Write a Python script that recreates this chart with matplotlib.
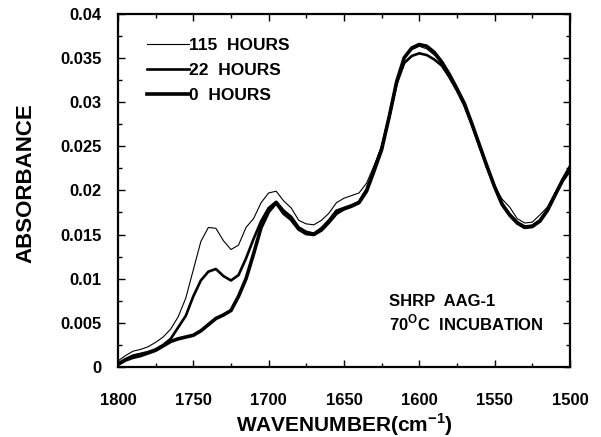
#%% Librerias
import numpy as np
import matplotlib
matplotlib.use('Agg')
import matplotlib.pyplot as plt
from matplotlib.ticker import MultipleLocator, FixedFormatter, FixedLocator

plt.rcParams['font.family'] = 'Liberation Sans'
plt.rcParams['font.weight'] = 'bold'
plt.rcParams['mathtext.fontset'] = 'custom'
plt.rcParams['mathtext.rm'] = 'Liberation Sans:bold'
plt.rcParams['mathtext.bf'] = 'Liberation Sans:bold'

#%% Datos
wavenumber = np.arange(1800, 1499, -5)

abs_115h = [0.0007, 0.0013, 0.0018, 0.0020, 0.0023, 0.0028, 0.0034, 0.0043, 0.0057, 0.0078,
            0.0110, 0.0142, 0.0158, 0.0157, 0.0143, 0.0133, 0.0138, 0.0158, 0.0168, 0.0186,
            0.0197, 0.0199, 0.0188, 0.0180, 0.0166, 0.0162, 0.0161, 0.0166, 0.0174, 0.0186,
            0.0191, 0.0194, 0.0197, 0.0208, 0.0228, 0.0250, 0.0285, 0.0324, 0.0349, 0.0359,
            0.0363, 0.0360, 0.0353, 0.0344, 0.0329, 0.0314, 0.0297, 0.0274, 0.0250, 0.0226,
            0.0205, 0.0190, 0.0181, 0.0168, 0.0163, 0.0164, 0.0172, 0.0181, 0.0197, 0.0213,
            0.0228]

abs_22h = [0.0004, 0.0009, 0.0013, 0.0015, 0.0017, 0.0020, 0.0025, 0.0032, 0.0045, 0.0058,
           0.0080, 0.0098, 0.0108, 0.0111, 0.0103, 0.0098, 0.0104, 0.0123, 0.0145, 0.0165,
           0.0180, 0.0187, 0.0177, 0.0170, 0.0158, 0.0153, 0.0151, 0.0157, 0.0166, 0.0177,
           0.0180, 0.0183, 0.0187, 0.0201, 0.0224, 0.0248, 0.0283, 0.0321, 0.0344, 0.0352,
           0.0355, 0.0353, 0.0348, 0.0341, 0.0328, 0.0313, 0.0296, 0.0274, 0.0250, 0.0226,
           0.0204, 0.0185, 0.0173, 0.0164, 0.0159, 0.0160, 0.0166, 0.0178, 0.0195, 0.0210,
           0.0222]

abs_0h = [0.0003, 0.0008, 0.0011, 0.0013, 0.0016, 0.0019, 0.0024, 0.0029, 0.0032, 0.0034,
          0.0036, 0.0041, 0.0048, 0.0055, 0.0059, 0.0064, 0.0080, 0.0100, 0.0128, 0.0158,
          0.0176, 0.0186, 0.0174, 0.0167, 0.0156, 0.0151, 0.0150, 0.0155, 0.0164, 0.0174,
          0.0179, 0.0182, 0.0186, 0.0199, 0.0222, 0.0246, 0.0283, 0.0323, 0.0350, 0.0361,
          0.0365, 0.0363, 0.0356, 0.0345, 0.0331, 0.0315, 0.0298, 0.0275, 0.0251, 0.0227,
          0.0204, 0.0184, 0.0172, 0.0163, 0.0158, 0.0159, 0.0165, 0.0177, 0.0194, 0.0211,
          0.0226]

yticks = [0, 0.005, 0.01, 0.015, 0.02, 0.025, 0.03, 0.035, 0.04]
ytick_labels = ['0', '0.005', '0.01', '0.015', '0.02', '0.025', '0.03', '0.035', '0.04']

#%% Grafico
fig = plt.figure(figsize=(6.01, 4.37), dpi=100)
ax = fig.add_axes([0.1963, 0.160, 0.752, 0.809])

ax.plot(wavenumber, abs_115h, 'k-', lw=0.8, label='115  HOURS')
ax.plot(wavenumber, abs_22h, 'k-', lw=1.9, label='22  HOURS')
ax.plot(wavenumber, abs_0h, 'k-', lw=2.6, label='0  HOURS')

ax.set_xlim(1800, 1500)
ax.set_ylim(0, 0.04)
ax.xaxis.set_major_locator(MultipleLocator(50))
ax.xaxis.set_minor_locator(MultipleLocator(25))
ax.yaxis.set_major_locator(FixedLocator(yticks))
ax.yaxis.set_major_formatter(FixedFormatter(ytick_labels))
ax.yaxis.set_minor_locator(MultipleLocator(0.0025))

ax.tick_params(which='both', direction='in', top=True, right=True, width=1.0)
ax.tick_params(which='major', length=5)
ax.tick_params(which='minor', length=3)
ax.tick_params(axis='x', which='major', pad=19, labelsize=12)
ax.tick_params(axis='y', which='major', pad=12, labelsize=12)
for s in ax.spines.values():
    s.set_linewidth(1.6)

ax.set_xlabel('WAVENUMBER(cm$^{-1}$)', fontsize=15, fontweight='bold', labelpad=2)
ax.set_ylabel('ABSORBANCE', fontsize=16, fontweight='bold')
ax.yaxis.set_label_coords(-0.18, 0.52)

ax.legend(loc='upper left', bbox_to_anchor=(0.064, 0.93), frameon=False,
          handlelength=2.4, handletextpad=0.05, labelspacing=0.55,
          borderpad=0, borderaxespad=0, prop={'size': 12.5, 'weight': 'bold'})

ax.text(0.60, 0.173, 'SHRP  AAG-1', transform=ax.transAxes, fontsize=12,
        fontweight='bold', va='baseline')
ax.text(0.60, 0.1025, '70$^{\\rm O}$C  INCUBATION', transform=ax.transAxes, fontsize=12,
        fontweight='bold', va='baseline')

fig.savefig('out.png', dpi=100)
